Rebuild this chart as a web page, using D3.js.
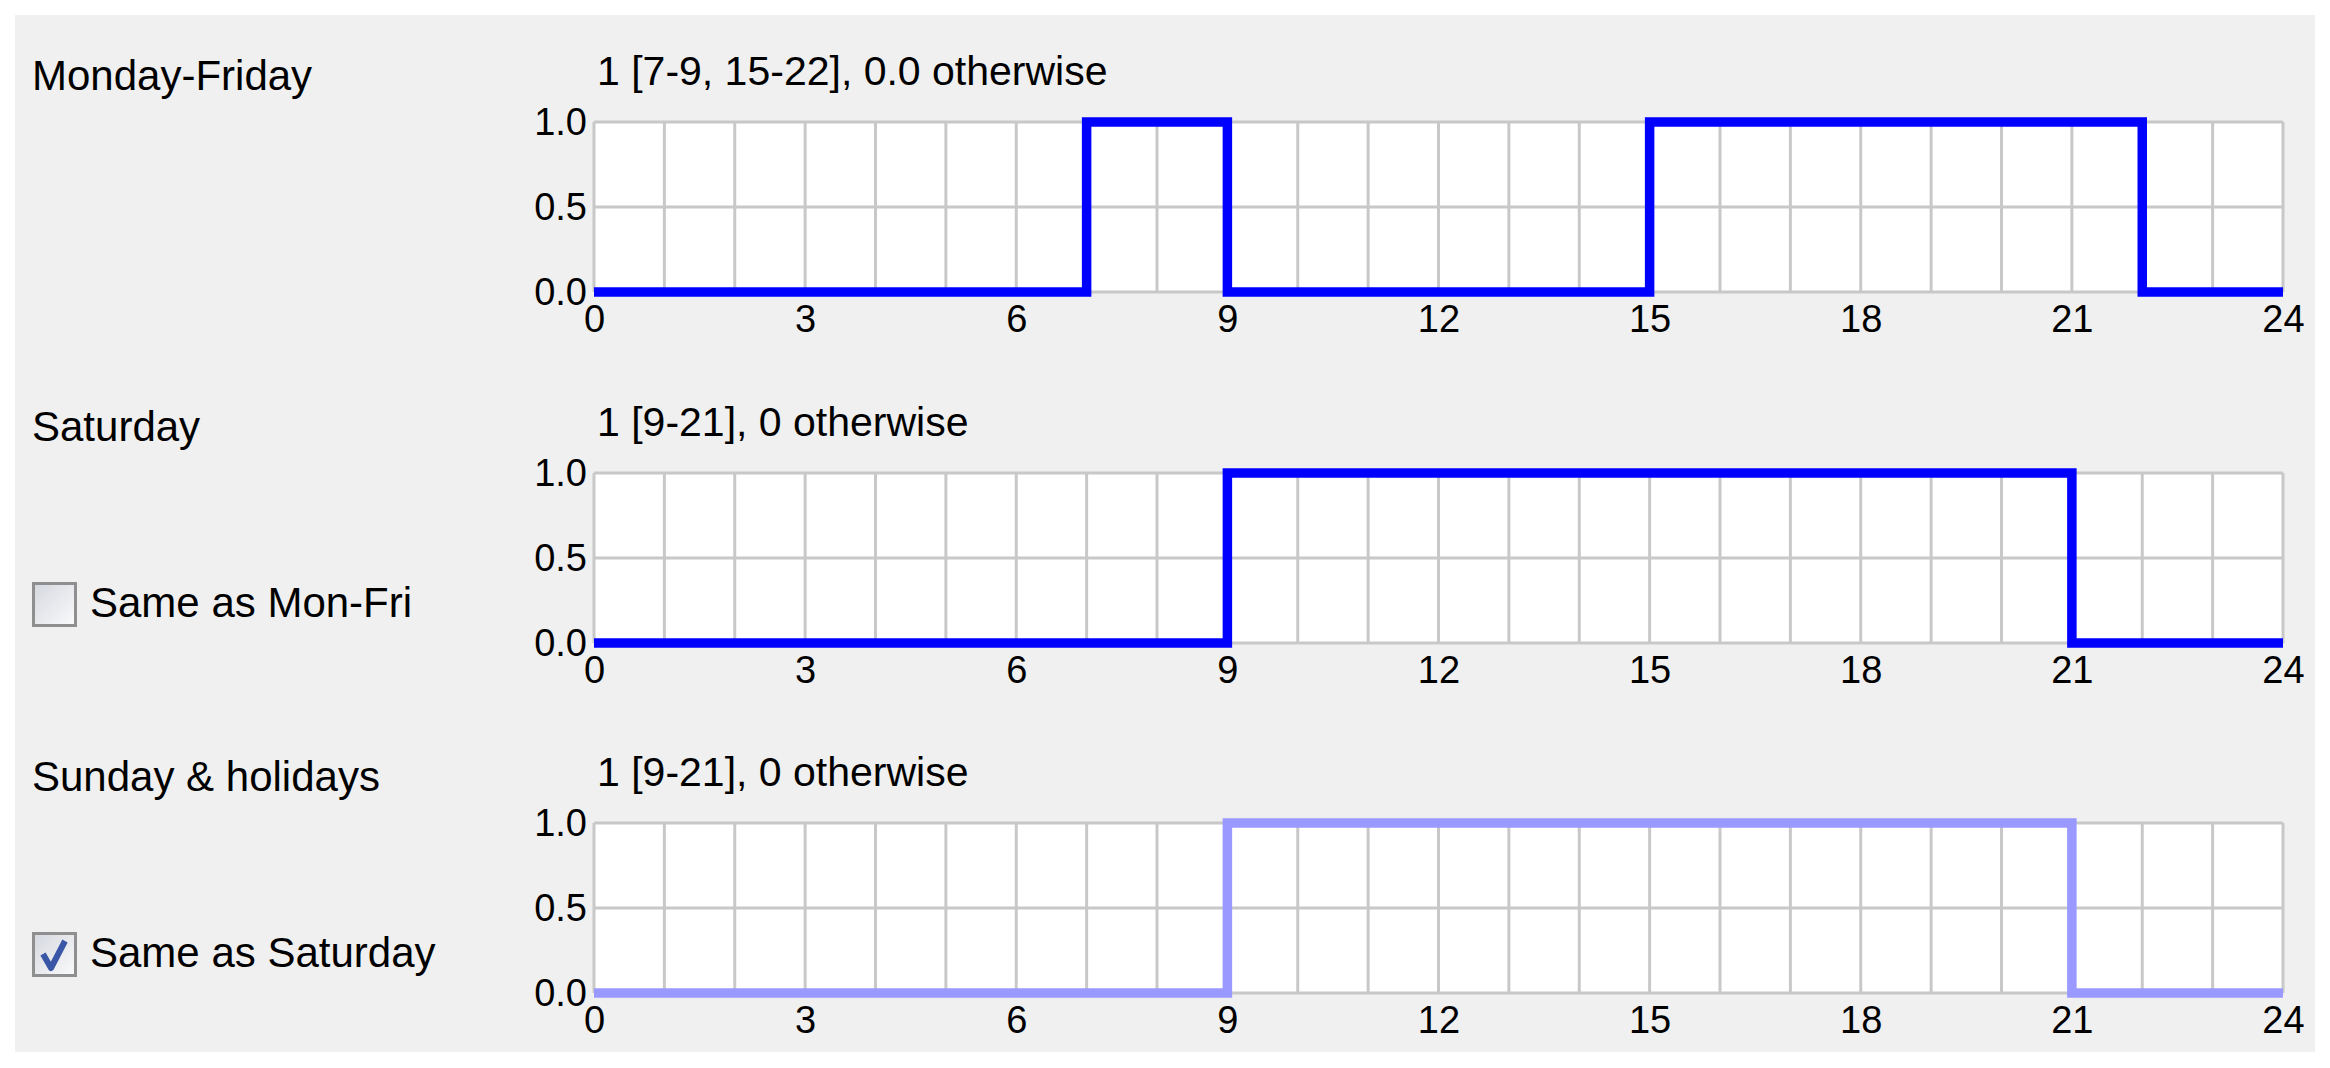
<!DOCTYPE html>
<html>
<head>
<meta charset="utf-8">
<script src="https://cdn.jsdelivr.net/npm/d3@7"></script>
<style>
  body { margin: 0; background: #ffffff; }
  svg { display: block; }
  text { font-family: "Liberation Sans", Arial, sans-serif; fill: #000; }
  .axis text { font-size: 38px; }
</style>
</head>
<body>
<div class="chart"></div>
<script>
// schedule data
var dayLabels = ["Monday-Friday", "Saturday", "Sunday & holidays"];
var formulas = ["1 [7-9, 15-22], 0.0 otherwise", "1 [9-21], 0 otherwise", "1 [9-21], 0 otherwise"];
var sameAsLabels = [null, "Same as Mon-Fri", "Same as Saturday"];
var sameAsChecked = [false, false, true];

// one value per hour, 0..23
var monFriValues   = [0,0,0,0,0,0,0,1,1,0,0,0,0,0,0,1,1,1,1,1,1,1,0,0];
var saturdayValues = [0,0,0,0,0,0,0,0,0,1,1,1,1,1,1,1,1,1,1,1,1,0,0,0];
var sundayValues   = [0,0,0,0,0,0,0,0,0,1,1,1,1,1,1,1,1,1,1,1,1,0,0,0];

var hourTicks = [0, 3, 6, 9, 12, 15, 18, 21, 24];
var valueTicks = [0, 0.5, 1.0];
var lineColors = ["#0000ff", "#0000ff", "#9999ff"];

var svgWidth = 2330;
var svgHeight = 1068;

var plotLeft = 594;
var plotWidth = 1689;
var plotHeight = 170;
var plotTops = [122, 473, 823];

var svg = d3.select(".chart")
  .append("svg")
  .attr("width", svgWidth)
  .attr("height", svgHeight);

// grey panel
svg.append("rect")
  .attr("x", 15).attr("y", 15)
  .attr("width", 2300).attr("height", 1037)
  .attr("fill", "#f0f0f0");

var defs = svg.append("defs");
var grad = defs.append("linearGradient")
  .attr("id", "boxFill")
  .attr("x1", 0).attr("y1", 0).attr("x2", 1).attr("y2", 1);
grad.append("stop").attr("offset", "0%").attr("stop-color", "#d4d7de");
grad.append("stop").attr("offset", "100%").attr("stop-color", "#fbfbfc");

var x = d3.scaleLinear().domain([0, 24]).range([0, plotWidth]);
var y = d3.scaleLinear().domain([0, 1]).range([plotHeight, 0]);

var allValues = [monFriValues, saturdayValues, sundayValues];

allValues.forEach(function(values, i) {
  var top = plotTops[i];

  // day label on the left
  svg.append("text")
    .attr("x", 32)
    .attr("y", top - 32)
    .attr("font-size", 42)
    .text(dayLabels[i]);

  // formula above the plot
  svg.append("text")
    .attr("x", plotLeft + 3)
    .attr("y", top - 37)
    .attr("font-size", 41)
    .text(formulas[i]);

  // "same as" checkbox
  if (sameAsLabels[i]) {
    var cb = svg.append("g").attr("transform", "translate(32," + (top + 109) + ")");
    cb.append("rect")
      .attr("x", 1.5).attr("y", 1.5)
      .attr("width", 42).attr("height", 42)
      .attr("fill", "url(#boxFill)")
      .attr("stroke", "#8f8f8f")
      .attr("stroke-width", 3);
    if (sameAsChecked[i]) {
      cb.append("path")
        .attr("d", "M11,22 L19,36 L33,9")
        .attr("fill", "none")
        .attr("stroke", "#3a56a6")
        .attr("stroke-width", 6)
        .attr("stroke-linejoin", "round");
    }
    svg.append("text")
      .attr("x", 90)
      .attr("y", top + 144)
      .attr("font-size", 42)
      .text(sameAsLabels[i]);
  }

  var chart = svg.append("g")
    .attr("transform", "translate(" + plotLeft + "," + top + ")");

  chart.append("rect")
    .attr("width", plotWidth)
    .attr("height", plotHeight)
    .attr("fill", "#ffffff");

  // hourly vertical grid
  chart.append("g")
    .selectAll("line")
    .data(x.ticks(24))
    .enter()
    .append("line")
      .attr("x1", function(d) { return x(d); })
      .attr("x2", function(d) { return x(d); })
      .attr("y1", 0)
      .attr("y2", plotHeight)
      .attr("stroke", "#c8c8c8")
      .attr("stroke-width", 3);

  chart.append("g")
    .selectAll("line")
    .data(valueTicks)
    .enter()
    .append("line")
      .attr("x1", 0)
      .attr("x2", plotWidth)
      .attr("y1", function(d) { return y(d); })
      .attr("y2", function(d) { return y(d); })
      .attr("stroke", "#c8c8c8")
      .attr("stroke-width", 3);

  // the schedule as a step line
  var points = values.map(function(v, h) { return [h, v]; });
  points.push([24, values[values.length - 1]]);

  var line = d3.line()
    .x(function(d) { return x(d[0]); })
    .y(function(d) { return y(d[1]); })
    .curve(d3.curveStepAfter);

  chart.append("path")
    .datum(points)
    .attr("d", line)
    .attr("fill", "none")
    .attr("stroke", lineColors[i])
    .attr("stroke-width", 9.5)
    .attr("stroke-linejoin", "miter");

  var bottomAxis = d3.axisBottom(x)
    .tickValues(hourTicks)
    .tickSize(0)
    .tickPadding(13);
  var leftAxis = d3.axisLeft(y)
    .tickValues(valueTicks)
    .tickFormat(d3.format(".1f"))
    .tickSize(0)
    .tickPadding(7);

  var gx = chart.append("g")
    .attr("class", "axis")
    .attr("transform", "translate(0," + plotHeight + ")")
    .call(bottomAxis);
  gx.select(".domain").remove();
  gx.selectAll("text").attr("fill", "#000").attr("font-family", null).attr("font-size", null);

  var gy = chart.append("g")
    .attr("class", "axis")
    .call(leftAxis);
  gy.select(".domain").remove();
  gy.selectAll("text").attr("fill", "#000").attr("font-family", null).attr("font-size", null);
});
</script>
</body>
</html>
